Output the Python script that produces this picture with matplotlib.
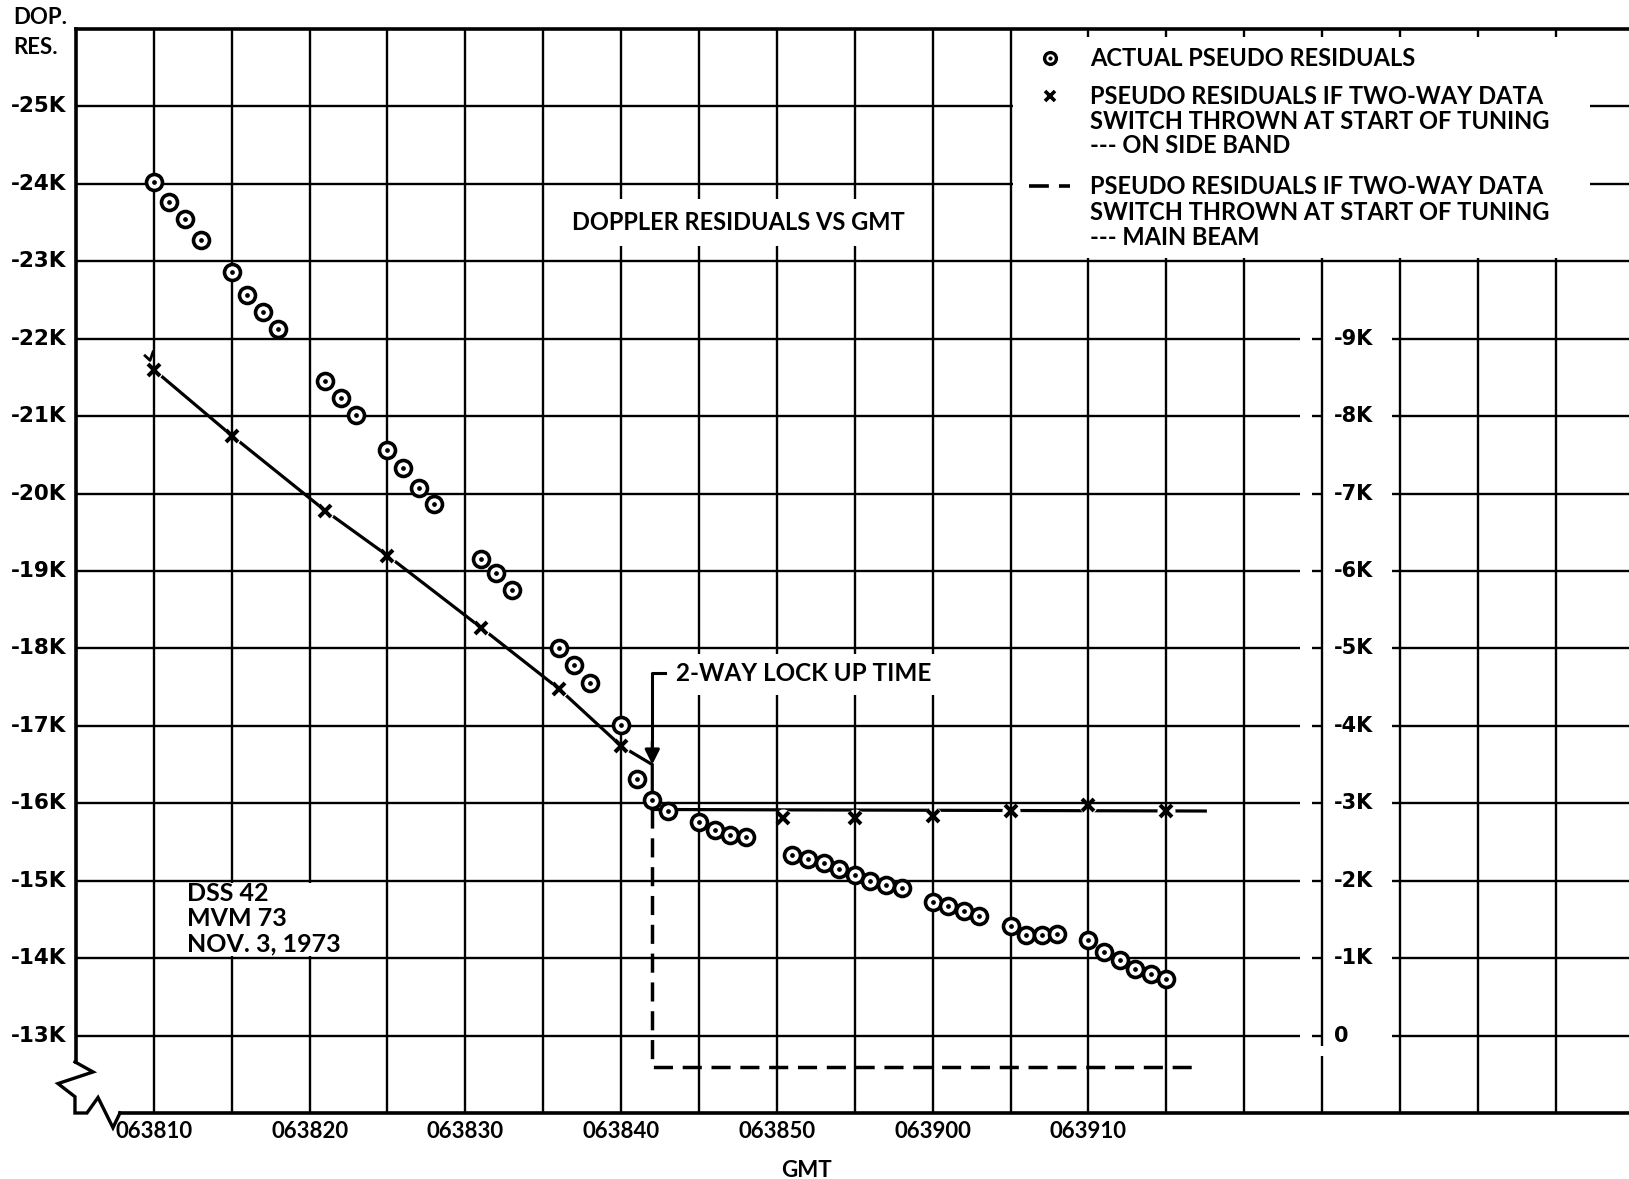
import matplotlib
matplotlib.use("Agg")
import matplotlib.pyplot as plt
from matplotlib.transforms import blended_transform_factory
from matplotlib.patches import Rectangle

# ---------------- data (time = seconds after 06:38:00 GMT, residuals in Hz) ----------------
circ_t = [10, 11, 12, 13, 15, 16, 17, 18, 21, 22, 23, 25, 26, 27, 28, 31, 32, 33,
          36, 37, 38, 40, 41, 42, 43, 45, 46, 47, 48, 51, 52, 53, 54, 55, 56, 57, 58,
          60, 61, 62, 63, 65, 66, 67, 68, 70, 71, 72, 73, 74, 75]
circ_v = [-24020, -23770, -23550, -23270, -22860, -22560, -22350, -22120,
          -21460, -21240, -21010, -20560, -20330, -20070, -19860,
          -19150, -18980, -18750, -18010, -17780, -17550,
          -17010, -16310, -16040, -15900, -15760, -15650, -15590, -15560,
          -15330, -15280, -15230, -15150, -15070, -15000, -14940, -14900,
          -14720, -14670, -14610, -14550, -14420, -14300, -14300, -14310,
          -14230, -14080, -13970, -13860, -13800, -13730]

side_t = [10, 15, 21, 25, 31, 36, 40, 50.4, 55, 60, 65, 70, 75]
side_v = [-21600, -20750, -19780, -19200, -18270, -17480, -16740,
          -15810, -15810, -15830, -15900, -15980, -15900]

# side band line path (sloped before lock-up, flat after)
sb_line_t = [10, 15, 21, 25, 31, 36, 40, 42, 42, 77.5]
sb_line_v = [-21600, -20750, -19780, -19200, -18270, -17480, -16740, -16500, -15920, -15900]

# main beam (dashed) path
mb_line_t = [42, 42, 77.0]
mb_line_v = [-15920, -12600, -12600]

lock_t = 42
lock_arrow_v = [-17680, -16500]

xgrid = list(range(5, 105, 5))
xlabel_pos = [10, 20, 30, 40, 50, 60, 70]
xlabels = ["063810", "063820", "063830", "063840", "063850", "063900", "063910"]

ygrid = list(range(-25000, -12000, 1000))
ylabels = ["-25K", "-24K", "-23K", "-22K", "-21K", "-20K", "-19K", "-18K", "-17K",
           "-16K", "-15K", "-14K", "-13K"]
y2_pos = list(range(-22000, -12000, 1000))
y2labels = ["-9K", "-8K", "-7K", "-6K", "-5K", "-4K", "-3K", "-2K", "-1K", "0"]

legend_items = ["ACTUAL PSEUDO RESIDUALS",
                "PSEUDO RESIDUALS IF TWO-WAY DATA\nSWITCH THROWN AT START OF TUNING\n--- ON SIDE BAND",
                "PSEUDO RESIDUALS IF TWO-WAY DATA\nSWITCH THROWN AT START OF TUNING\n--- MAIN BEAM"]
dss_text = ["DSS 42", "MVM 73", "NOV. 3, 1973"]

# ---------------- figure ----------------
W, H = 1629, 1179
fig = plt.figure(figsize=(W / 100, H / 100), dpi=100)
fig.patch.set_facecolor("white")
ax_left, ax_right, ax_top, ax_bot = 75.9, 1629, 29, 1113
ax = fig.add_axes([ax_left / W, 1 - ax_bot / H, (ax_right - ax_left) / W, (ax_bot - ax_top) / H])
XMIN, XMAX = 5, 104.7
YTOP, YBOT = -26000, -12000
ax.set_xlim(XMIN, XMAX)
ax.set_ylim(YBOT, YTOP)
ax.set_xticks([])
ax.set_yticks([])
for s in ax.spines.values():
    s.set_visible(False)

K = "black"
GLW = 1.7
FONT = ["Lato", "DejaVu Sans"]
BOLDF = ["DejaVu Sans"]
TW = "bold"

# grid (drawn above data lines, so white backing circles create gaps only in data lines)
for t in xgrid[1:]:
    if t == 85:
        ax.plot([t, t], [YTOP, -12860], color=K, lw=GLW, zorder=4, solid_capstyle="butt")
        ax.plot([t, t], [-12730, YBOT], color=K, lw=GLW, zorder=4, solid_capstyle="butt")
    else:
        ax.plot([t, t], [YTOP, YBOT], color=K, lw=GLW, zorder=4, solid_capstyle="butt")
for v in ygrid:
    ax.plot([XMIN, XMAX], [v, v], color=K, lw=GLW, zorder=4, solid_capstyle="butt")

# frame: top, left (broken), bottom (broken)
ax.plot([XMIN, XMAX], [YTOP, YTOP], color=K, lw=2.6, zorder=7, clip_on=False)
ax.plot([XMIN, XMIN], [YTOP, -12660], color=K, lw=2.6, zorder=7, clip_on=False)
ax.plot([7.83, XMAX], [YBOT, YBOT], color=K, lw=2.6, zorder=7, clip_on=False)
zz_t = [4.94, 6.10, 3.85, 4.94, 4.94, 5.71, 6.42, 7.38, 7.83]
zz_v = [-12660, -12530, -12380, -12210, -12000, -12000, -12200, -11810, -12000]
ax.plot(zz_t, zz_v, color=K, lw=2.4, zorder=7, clip_on=False, solid_joinstyle="miter")

# white label boxes (cover grid)
def wbox(t0, t1, v0, v1):
    ax.add_patch(Rectangle((t0, v0), t1 - t0, v1 - v0, facecolor="white",
                           edgecolor="none", zorder=4.5))

wbox(65.15, 102.2, -25900, -23040)      # legend
wbox(35.15, 59.85, -23800, -23200)      # title
wbox(42.9, 61.5, -17930, -17400)        # lock-up text
wbox(11.9, 23.2, -14970, -14030)        # DSS text
wbox(83.6, 89.5, -22400, YBOT)          # right axis labels

# right axis redraw + ticks
ax.plot([85, 85], [-22400, -12860], color=K, lw=GLW, zorder=4.6, solid_capstyle="butt")
ax.plot([85, 85], [-12730, YBOT], color=K, lw=GLW, zorder=4.6, solid_capstyle="butt")
for v in y2_pos:
    ax.plot([84.35, 85], [v, v], color=K, lw=GLW, zorder=4.6, solid_capstyle="butt")
for v, lab in zip(y2_pos, y2labels):
    ax.text(85.75, v, lab, ha="left", va="center", fontsize=15, fontweight="bold",
            family=BOLDF, zorder=6)

# ---------------- data marks ----------------
ax.plot(sb_line_t, sb_line_v, color=K, lw=2.3, zorder=2, solid_joinstyle="miter")
ax.plot([9.44, 9.76, 9.95], [-21780, -21720, -21830], color=K, lw=2.0, zorder=2)
ax.plot(mb_line_t, mb_line_v, color=K, lw=2.5, zorder=2, dashes=(5.5, 2.8))
# white backing to make gaps around x marks
ax.plot(side_t, side_v, ls="none", marker="o", ms=13, mfc="white", mec="none", zorder=3)
ax.plot(side_t, side_v, ls="none", marker="x", ms=9, mew=2.9, color=K, zorder=5)

ax.plot(circ_t, circ_v, ls="none", marker="o", ms=11.5, mfc="white", mec=K, mew=2.6, zorder=5)
ax.plot(circ_t, circ_v, ls="none", marker="o", ms=2.4, mfc=K, mec=K, zorder=5.1)

# lock-up arrow
ax.plot([lock_t + 0.83, lock_t, lock_t], [lock_arrow_v[0], lock_arrow_v[0], lock_arrow_v[1] - 250],
        color=K, lw=2.2, zorder=5)
ax.annotate("", xy=(lock_t, lock_arrow_v[1]), xytext=(lock_t, lock_arrow_v[1] - 300),
            arrowprops=dict(arrowstyle="-|>", color=K, lw=2.2, mutation_scale=22,
                            shrinkA=0, shrinkB=0), zorder=5)
ax.text(43.5, -17670, "2-WAY LOCK UP TIME", ha="left", va="center", fontsize=17.5,
        family=FONT, fontweight=TW, zorder=6)

# title and annotations
ax.text(47.5, -23500, "DOPPLER RESIDUALS VS GMT", ha="center", va="center", fontsize=17,
        family=FONT, fontweight=TW, zorder=6)
for v, line in zip([-14840, -14517, -14181], dss_text):
    ax.text(12.1, v, line, ha="left", va="center", fontsize=18, family=FONT,
            fontweight=TW, zorder=6)

# legend
ax.plot([67.5], [-25620], ls="none", marker="o", ms=8.5, mfc="white", mec=K, mew=2.4, zorder=6)
ax.plot([67.5], [-25620], ls="none", marker="o", ms=2.0, mfc=K, mec=K, zorder=6.1)
ax.plot([67.5], [-25134], ls="none", marker="x", ms=6.5, mew=2.6, color=K, zorder=6)
ax.plot([66.2, 68.8], [-23966, -23966], color=K, lw=2.6, dashes=(5.5, 2.8), zorder=6)
leg_lines = [legend_items[0]] + legend_items[1].split("\n") + legend_items[2].split("\n")
leg_v = [-25620, -25134, -24811, -24490, -23966, -23630, -23307]
for v, line in zip(leg_v, leg_lines):
    ax.text(70.1, v, line, ha="left", va="center", fontsize=17,
            family=FONT, fontweight=TW, zorder=6)

# axis labels
trans_x = blended_transform_factory(ax.transData, ax.transAxes)
for t, lab in zip(xlabel_pos, xlabels):
    ax.text(t, -0.007, lab, transform=trans_x, ha="center", va="top", fontsize=16,
            fontweight="bold", family=FONT)
ax.text(51.9, -0.043, "GMT", transform=trans_x, ha="center", va="top", fontsize=16,
        fontweight="bold", family=FONT)
trans_y = blended_transform_factory(ax.transAxes, ax.transData)
for v, lab in zip(ygrid, ylabels):
    ax.text(-0.006, v, lab, transform=trans_y, ha="right", va="center", fontsize=15.5,
            fontweight="bold", family=BOLDF)
fig.text(13 / W, 1 - 17 / H, "DOP.", ha="left", va="center", fontsize=16, fontweight="bold",
         family=FONT)
fig.text(13 / W, 1 - 47 / H, "RES.", ha="left", va="center", fontsize=16, fontweight="bold",
         family=FONT)

fig.savefig("out.png", dpi=100, facecolor="white")
